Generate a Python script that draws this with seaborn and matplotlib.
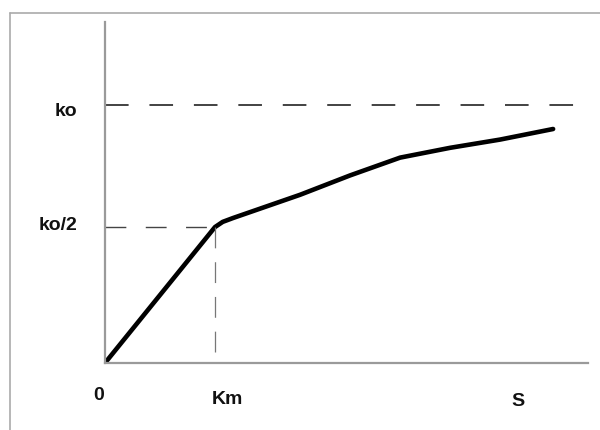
import matplotlib
matplotlib.use("Agg")
import matplotlib.pyplot as plt
from matplotlib.transforms import offset_copy
from matplotlib.lines import Line2D
import seaborn as sns
import pandas as pd

# ---- data ----
curve_s = [0.0, 1.0, 1.07, 1.164, 1.773, 2.227, 2.682, 3.136, 3.591, 4.073]
curve_v = [0.0, 0.527, 0.547, 0.562, 0.652, 0.727, 0.796, 0.834, 0.866, 0.907]
Km = 1.0
ko = 1.0
ko_half = 0.527
S_pos = 3.755
x_labels = ["0", "Km", "S"]
y_labels = ["ko", "ko/2"]

sns.set_theme(style="white")
plt.rcParams["font.family"] = ["Liberation Sans", "DejaVu Sans"]

fig = plt.figure(figsize=(6, 4.3), dpi=100)
ax = fig.add_axes([105 / 600, 1 - 363 / 430, 483 / 600, 341 / 430])
ax.set_xlim(0, 4.39)
ax.set_ylim(0, 341 / 258)

df = pd.DataFrame({"S": curve_s, "v": curve_v})
sns.lineplot(data=df, x="S", y="v", sort=False, color="black", lw=3.3,
             solid_capstyle="round", solid_joinstyle="round", ax=ax)

# dashed reference lines
lw1 = 1.2
ax.plot([0, 4.34], [ko, ko], color="#222222", lw=lw1,
        linestyle=(0, (17 / lw1, 15 / lw1)))
ax.plot([0, Km], [ko_half, ko_half], color="#444444", lw=1.0,
        linestyle=(0, (15 / 1.0, 14 / 1.0)))
ax.plot([Km, Km], [ko_half, 0.03], color="#777777", lw=0.9,
        linestyle=(0, (15 / 0.9, 10 / 0.9)))

# axes styling
for sp in ["top", "right"]:
    ax.spines[sp].set_visible(False)
for sp in ["left", "bottom"]:
    ax.spines[sp].set_color("#9a9a9a")
    ax.spines[sp].set_linewidth(1.6)
ax.set_xticks([])
ax.set_yticks([])
ax.set_xlabel("")
ax.set_ylabel("")

fs = 14
tkw = dict(fontsize=fs, fontweight="bold", color="#111111")
# x labels
for lab, xv, dx, dy in zip(x_labels, [0, Km, S_pos], [-6, 12, 0], [-33, -37, -39]):
    tr = offset_copy(ax.transData, fig=fig, x=dx, y=dy, units="dots")
    ax.text(xv, 0, lab, transform=tr, ha="center", va="center", **tkw)
# y labels
for lab, yv, dy in zip(y_labels, [ko, ko_half], [-7, 2]):
    tr = offset_copy(ax.transData, fig=fig, x=-28, y=dy, units="dots")
    ax.text(0, yv, lab, transform=tr, ha="right", va="center", **tkw)

# outer frame (left and top edges)
fig.add_artist(Line2D([10 / 600, 10 / 600], [0, 1 - 13 / 430],
                      transform=fig.transFigure, color="#aaaaaa", lw=1.2))
fig.add_artist(Line2D([10 / 600, 1], [1 - 13 / 430, 1 - 13 / 430],
                      transform=fig.transFigure, color="#aaaaaa", lw=1.2))

fig.savefig("out.png", dpi=100)
